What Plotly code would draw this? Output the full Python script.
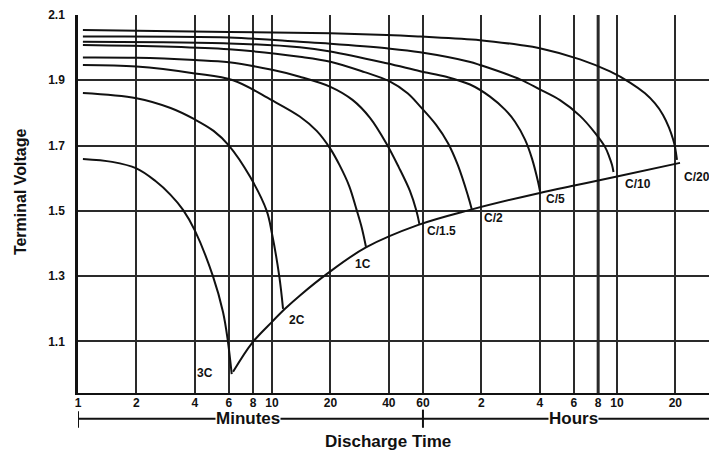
import numpy as np
import plotly.graph_objects as go

# ---------------- data (minutes, volts) ----------------
curve_labels = ["3C", "2C", "1C", "C/1.5", "C/2", "C/5", "C/10", "C/20"]

t_3C = [1.06, 1.5, 2, 2.5, 3, 3.48, 4, 4.96, 5.59, 5.92, 6.2]
v_3C = [1.659, 1.650, 1.630, 1.592, 1.549, 1.503, 1.44, 1.30, 1.19, 1.102, 1.0]

t_2C = [1.06, 2, 3, 4, 5, 6, 7.7, 9.39, 10, 10.9, 11.4]
v_2C = [1.861, 1.845, 1.815, 1.780, 1.745, 1.70, 1.605, 1.50, 1.43, 1.30, 1.20]

t_1C = [1.06, 2, 4, 6.3, 9.9, 13.9, 17, 20, 22.3, 25, 27.3, 29, 30.5]
v_1C = [1.947, 1.942, 1.921, 1.90, 1.840, 1.789, 1.745, 1.69, 1.64, 1.576, 1.503, 1.449, 1.39]

t_C15 = [1.06, 2, 4, 6, 10, 13.9, 20, 26, 32, 39, 45, 51.4, 55.5, 57.5]
v_C15 = [1.970, 1.969, 1.962, 1.955, 1.932, 1.911, 1.88, 1.84, 1.785, 1.705, 1.634, 1.561, 1.50, 1.46]

t_C2 = [1.06, 6, 13.9, 20, 30, 40, 50, 58, 70, 80.8, 90.9, 102.4, 107]
v_C2 = [2.008, 1.995, 1.972, 1.957, 1.925, 1.898, 1.86, 1.82, 1.764, 1.707, 1.639, 1.546, 1.506]

t_C5 = [1.06, 6, 13.9, 20, 39, 58, 80, 104.9, 133, 158.9, 178.9, 201.5, 218.9, 235, 240.6]
v_C5 = [2.018, 2.013, 2.001, 1.988, 1.952, 1.928, 1.91, 1.887, 1.850, 1.810, 1.773, 1.718, 1.660, 1.590, 1.561]

t_C10 = [1.06, 6, 13.9, 20, 39, 58, 104, 118, 189.8, 240, 305.1, 386.9, 462.3, 520.5, 545.8, 565.6, 575.8]
v_C10 = [2.034, 2.031, 2.018, 2.012, 1.998, 1.986, 1.957, 1.947, 1.903, 1.872, 1.839, 1.791, 1.739, 1.696, 1.668, 1.641, 1.619]

t_C20 = [1.06, 6, 20, 39, 58, 118, 190, 240, 386.9, 552.4, 700.5, 837, 942.5, 1036.4, 1112.9, 1166.8, 1194.8, 1223.3]
v_C20 = [2.054, 2.048, 2.044, 2.039, 2.034, 2.023, 2.008, 1.998, 1.964, 1.927, 1.893, 1.860, 1.829, 1.794, 1.755, 1.720, 1.696, 1.656]

# end-of-discharge voltage line
t_end = [6.3, 7.885, 10, 11.67, 13.94, 19.2, 30.5, 56.8, 105, 240, 372, 600, 1268]
v_end = [1.007, 1.095, 1.160, 1.200, 1.241, 1.307, 1.388, 1.457, 1.503, 1.555, 1.579, 1.605, 1.647]

# label positions (minutes, volts)
label_t = [4.52, 13.45, 29.4, 75.2, 139, 288, 770, 1298]
label_v = [1.003, 1.166, 1.337, 1.438, 1.478, 1.536, 1.582, 1.604]
label_anchor = ["center"] * 7 + ["left"]

x_tickvals = [1, 2, 4, 6, 8, 10, 20, 40, 60, 120, 240, 360, 480, 600, 1200]
x_ticktext = ["1", "2", "4", "6", "8", "10", "20", "40", "60", "2", "4", "6", "8", "10", "20"]
y_tickvals = [1.1, 1.3, 1.5, 1.7, 1.9, 2.1]
y_ticktext = ["1.1", "1.3", "1.5", "1.7", "1.9", "2.1"]

FONT = "Liberation Sans, Arial, sans-serif"
GRID = "#2a2a2a"

fig = go.Figure()
series = [(t_3C, v_3C), (t_2C, v_2C), (t_1C, v_1C), (t_C15, v_C15),
          (t_C2, v_C2), (t_C5, v_C5), (t_C10, v_C10), (t_C20, v_C20),
          (t_end, v_end)]
for t, v in series:
    fig.add_trace(go.Scatter(x=t, y=v, mode="lines",
                             line=dict(color="#111111", width=2, shape="spline", smoothing=1.0),
                             hoverinfo="skip"))

# heavier 8-hour grid line
fig.add_shape(type="line", xref="x", yref="y", x0=480, x1=480, y0=0.942, y1=2.1,
              line=dict(color=GRID, width=3), layer="below")

for lab, t, v, anc in zip(curve_labels, label_t, label_v, label_anchor):
    fig.add_annotation(x=np.log10(t), y=v, xref="x", yref="y", text=lab, showarrow=False,
                       xanchor=anc, yanchor="middle",
                       font=dict(family=FONT, size=12, color="#111", weight="bold"))

# Minutes / Hours bracket below the axis
ybr = -0.068
fig.add_shape(type="line", xref="paper", yref="paper", x0=0, x1=1, y0=ybr, y1=ybr,
              line=dict(color="#111", width=2))
fig.add_shape(type="line", xref="x", yref="paper", x0=1, x1=1, y0=-0.048, y1=-0.092,
              line=dict(color="#111", width=2))
fig.add_shape(type="line", xref="x", yref="paper", x0=60, x1=60, y0=-0.044, y1=-0.092,
              line=dict(color="#111", width=2))
fig.add_annotation(x=np.log10(7.5), y=ybr, xref="x", yref="paper", text="Minutes",
                   showarrow=False, bgcolor="white", borderpad=0, yanchor="middle",
                   font=dict(family=FONT, size=17, color="#111", weight="bold"))
fig.add_annotation(x=np.log10(360), y=ybr, xref="x", yref="paper", text="Hours",
                   showarrow=False, bgcolor="white", borderpad=0, yanchor="middle",
                   font=dict(family=FONT, size=17, color="#111", weight="bold"))
fig.add_annotation(x=0.491, y=-0.129, xref="paper", yref="paper", text="Discharge Time",
                   showarrow=False, yanchor="middle", borderpad=0,
                   font=dict(family=FONT, size=17, color="#111", weight="bold"))
fig.add_annotation(x=-0.09, y=0.532, xref="paper", yref="paper", text="Terminal Voltage",
                   showarrow=False, textangle=-90, xanchor="center", yanchor="middle",
                   font=dict(family=FONT, size=16, color="#111", weight="bold"))

fig.update_xaxes(type="log", range=[0, 3.2526], tickvals=x_tickvals, ticktext=x_ticktext,
                 showgrid=True, gridcolor=GRID, gridwidth=2, zeroline=False,
                 showline=True, linecolor="#111", linewidth=2, ticks="",
                 ticklabelstandoff=-2,
                 tickfont=dict(family=FONT, size=12, color="#111", weight="bold"))
fig.update_yaxes(range=[0.942, 2.1], tickvals=y_tickvals, ticktext=y_ticktext,
                 showgrid=True, gridcolor=GRID, gridwidth=2, zeroline=False,
                 showline=True, linecolor="#111", linewidth=2.5, ticks="",
                 ticklabelstandoff=8,
                 tickfont=dict(family=FONT, size=12, color="#111", weight="bold"))

fig.update_layout(width=709, height=453, margin=dict(l=78, r=0, t=15, b=60),
                  plot_bgcolor="white", paper_bgcolor="white", showlegend=False)

fig.write_html("out.html", config={"displayModeBar": False},
               post_script="document.body.style.margin='0px';document.body.style.overflow='hidden';")
